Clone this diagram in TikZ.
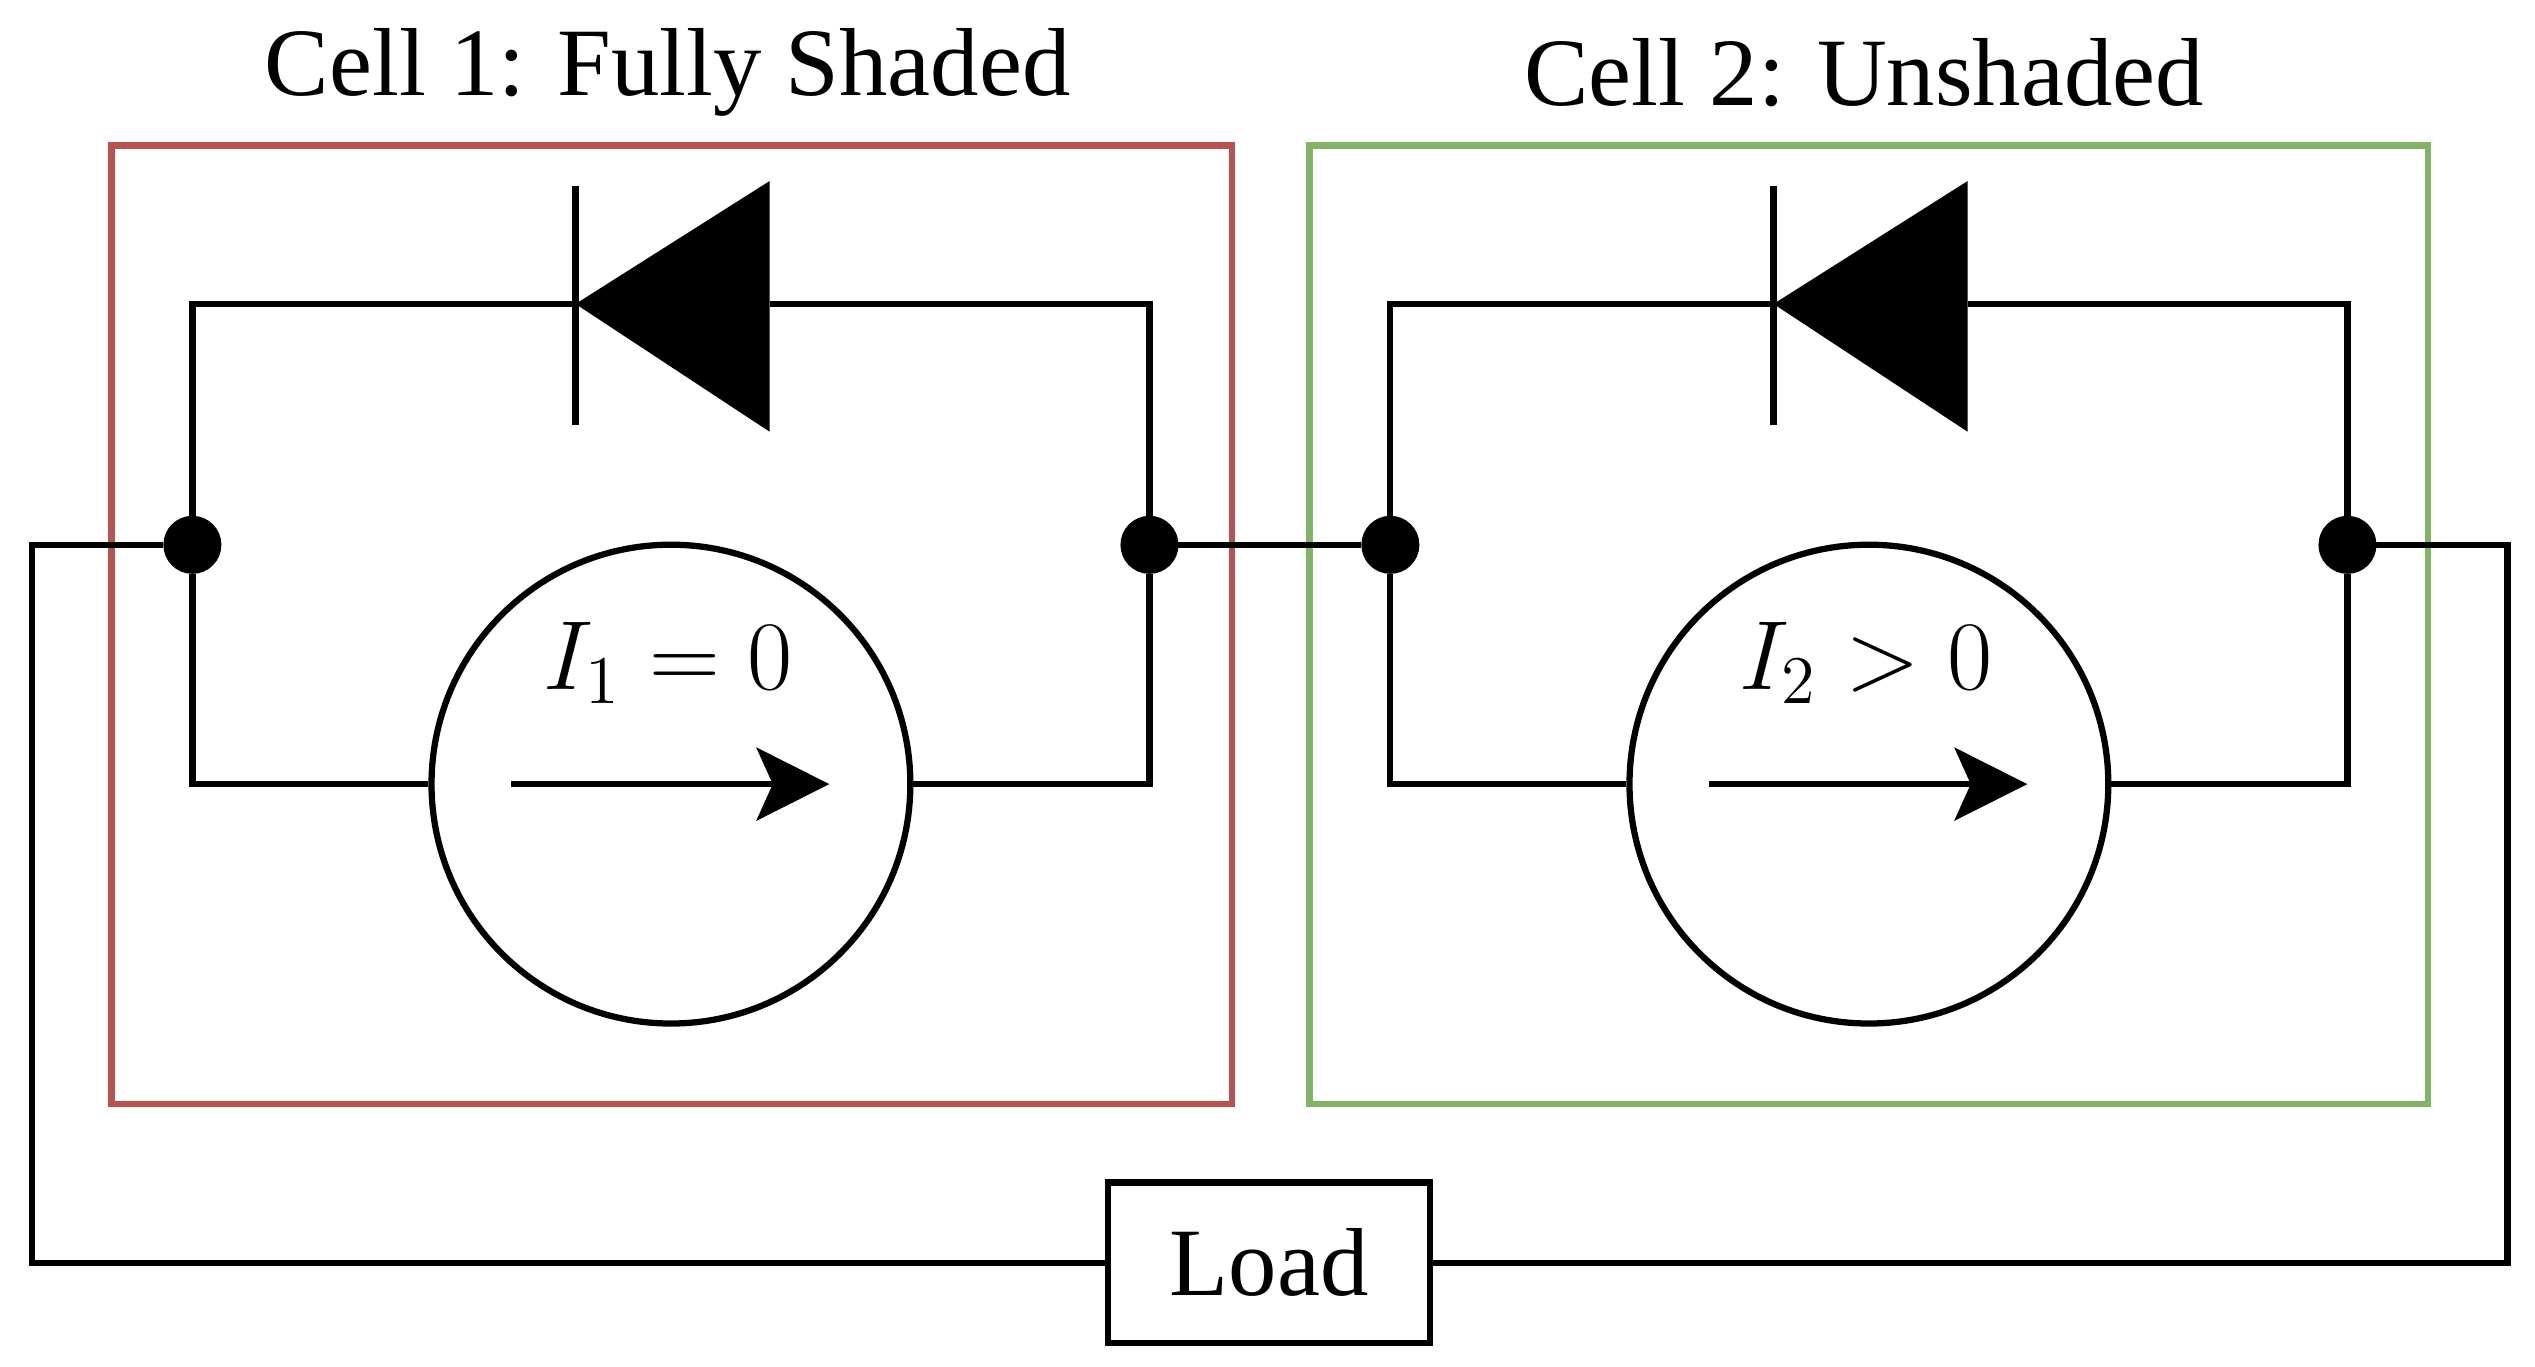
\documentclass[tikz,border=0pt]{standalone}
\usepackage{fontspec}
\setmainfont{Liberation Serif}
\usetikzlibrary{arrows.meta}
\begin{document}
\begin{tikzpicture}[x=0.01cm, y=-0.01cm, line width=1.1pt]
	\tikzset{junction/.style={draw, circle, inner sep=0pt, minimum size=.32cm, fill=black},
		source/.style={draw, circle, inner sep=0pt, minimum size=2.96cm},
		title/.style={font=\fontsize{17}{21}\selectfont}}
	\useasboundingbox (0,0) rectangle (1568,845);

	% cell frames
	\draw[color={rgb,255:red,184;green,84;blue,80}] (69,90) rectangle (762,683);
	\draw[color={rgb,255:red,130;green,179;blue,102}] (810,90) rectangle (1502,683);
	\node[title] (t_1) at (413,45) {Cell 1: Fully Shaded};
	\node[title] (t_2) at (1153,45) {Cell 2: Unshaded};

	\foreach \i/\dx/\lab in {1/0/{I_1 = 0}, 2/741/{I_2 > 0}} {
		\node[junction] (l_\i) at (119+\dx,337) {};
		\node[junction] (r_\i) at (711+\dx,337) {};
		\node[source] (s_\i) at (415+\dx,485) {};
		\coordinate (a_\i) at (356+\dx,188);
		\coordinate (b_\i) at (476+\dx,188);
		% diode
		\fill (356+\dx,188) -- (476+\dx,112) -- (476+\dx,267) -- cycle;
		\draw (356+\dx,115) -- (356+\dx,263);
		\draw (l_\i) |- (a_\i);
		\draw (b_\i) -| (r_\i);
		\draw (l_\i) |- (s_\i.west);
		\draw (s_\i.east) -| (r_\i);
		% current
		\coordinate (p_\i) at (316+\dx,485);
		\coordinate (q_\i) at (513+\dx,485);
		\draw[-{Stealth[length=0.45cm,width=0.45cm,inset=0.1cm]}] (p_\i) -- (q_\i);
		\node[font=\fontsize{18}{22}\selectfont] (m_\i) at (413+\dx,410) {$\lab$};
	}

	\draw (r_1) -- (l_2);

	% load
	\node[draw, minimum width=1.99cm, minimum height=0.99cm, title] (load) at (785,781) {Load};
	\coordinate (c_1) at (20,337);
	\coordinate (c_2) at (1551,337);
	\draw (l_1) -- (c_1) |- (load.west);
	\draw (r_2) -- (c_2) |- (load.east);
\end{tikzpicture}
\end{document}
